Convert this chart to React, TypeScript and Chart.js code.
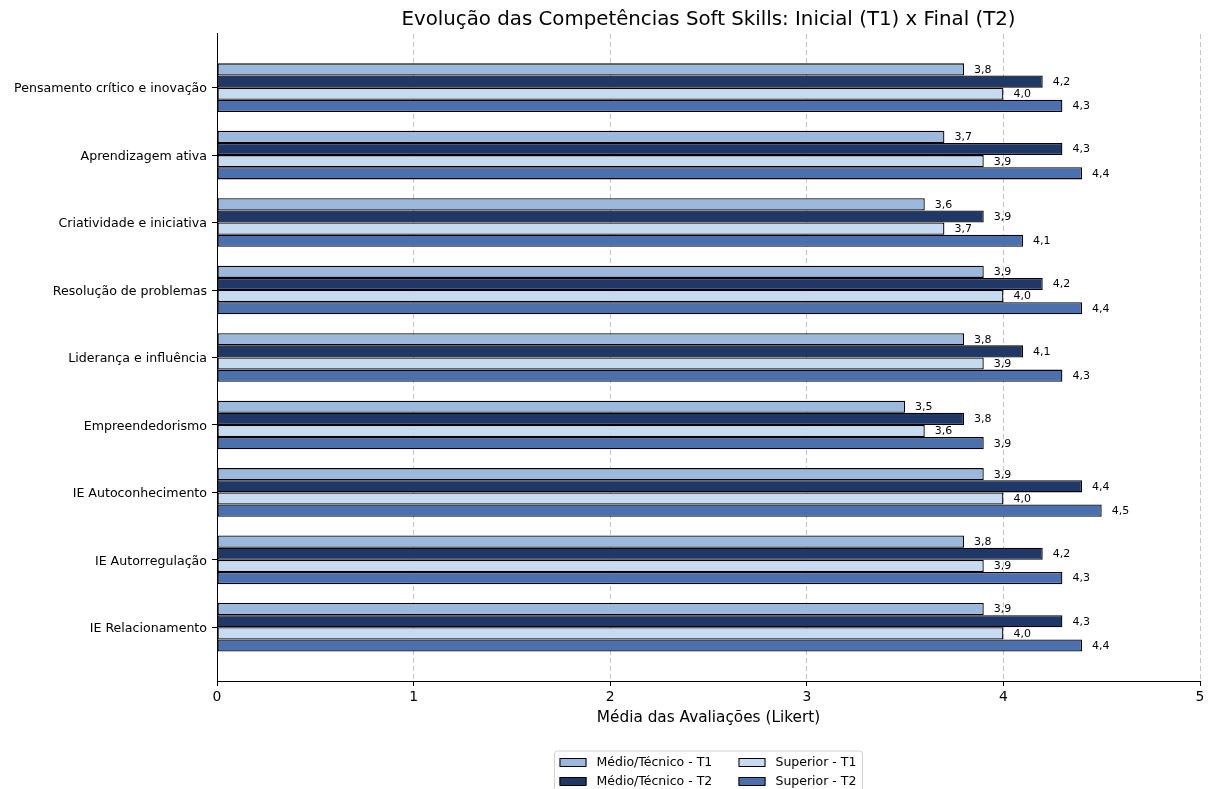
import React, { useEffect, useRef } from "react";
import { Chart, registerables } from "chart.js";

Chart.register(...registerables);

// Competências avaliadas (ordem de cima para baixo)
const categories = [
  "Pensamento crítico e inovação",
  "Aprendizagem ativa",
  "Criatividade e iniciativa",
  "Resolução de problemas",
  "Liderança e influência",
  "Empreendedorismo",
  "IE Autoconhecimento",
  "IE Autorregulação",
  "IE Relacionamento",
];

// Médias por grupo e momento
const medioT1 = [3.8, 3.7, 3.6, 3.9, 3.8, 3.5, 3.9, 3.8, 3.9];
const medioT2 = [4.2, 4.3, 3.9, 4.2, 4.1, 3.8, 4.4, 4.2, 4.3];
const superiorT1 = [4.0, 3.9, 3.7, 4.0, 3.9, 3.6, 4.0, 3.9, 4.0];
const superiorT2 = [4.3, 4.4, 4.1, 4.4, 4.3, 3.9, 4.5, 4.3, 4.4];

const seriesLabels = ["Médio/Técnico - T1", "Médio/Técnico - T2", "Superior - T1", "Superior - T2"];
const seriesColors = ["#9bb9dd", "#1f3868", "#c6dbef", "#4a70b0"];

const xTicks = [0, 1, 2, 3, 4, 5];

const FONT = "'DejaVu Sans', sans-serif";

const fmt = (v: number) => v.toFixed(1).replace(".", ",");

// Rótulos de valor na ponta de cada barra
const valueLabels = {
  id: "valueLabels",
  afterDatasetsDraw(chart: any) {
    const { ctx } = chart;
    ctx.save();
    ctx.font = `11px ${FONT}`;
    ctx.fillStyle = "#000";
    ctx.textAlign = "left";
    ctx.textBaseline = "middle";
    chart.data.datasets.forEach((ds: any, di: number) => {
      const meta = chart.getDatasetMeta(di);
      meta.data.forEach((bar: any, i: number) => {
        const v = ds.data[i].x;
        ctx.fillText(fmt(v), bar.x + 10, bar.y + 0.5);
      });
    });
    ctx.restore();
  },
};

// Legenda em duas colunas, abaixo do eixo x
const columnLegend = {
  id: "columnLegend",
  afterDraw(chart: any) {
    const { ctx, chartArea } = chart;
    const datasets = chart.data.datasets;
    const boxW = 308;
    const cx = (chartArea.left + chartArea.right) / 2;
    const left = cx - boxW / 2;
    const top = 751;
    ctx.save();
    ctx.beginPath();
    const r = 3;
    const h = 44;
    ctx.moveTo(left + r, top);
    ctx.lineTo(left + boxW - r, top);
    ctx.quadraticCurveTo(left + boxW, top, left + boxW, top + r);
    ctx.lineTo(left + boxW, top + h);
    ctx.lineTo(left, top + h);
    ctx.lineTo(left, top + r);
    ctx.quadraticCurveTo(left, top, left + r, top);
    ctx.closePath();
    ctx.fillStyle = "rgba(255,255,255,0.8)";
    ctx.fill();
    ctx.strokeStyle = "#d0d0d0";
    ctx.lineWidth = 1;
    ctx.stroke();

    ctx.font = `12.5px ${FONT}`;
    ctx.textBaseline = "middle";
    ctx.textAlign = "left";
    datasets.forEach((ds: any, i: number) => {
      const col = Math.floor(i / 2);
      const row = i % 2;
      const px = left + 5 + col * 179;
      const py = top + 11 + row * 19;
      ctx.fillStyle = ds.backgroundColor;
      ctx.fillRect(px, py - 4, 27, 8);
      ctx.strokeStyle = "#000";
      ctx.lineWidth = 1;
      ctx.strokeRect(px + 0.5, py - 4 + 0.5, 26, 8);
      ctx.fillStyle = "#000";
      ctx.fillText(ds.label, px + 37, py + 0.5);
    });
    ctx.restore();
  },
};

export default function App() {
  const canvasRef = useRef<HTMLCanvasElement | null>(null);

  useEffect(() => {
    if (!canvasRef.current) return;
    const series = [medioT1, medioT2, superiorT1, superiorT2];
    const chart = new Chart(canvasRef.current, {
      type: "bar",
      data: {
        datasets: series.map((values, s) => ({
          label: seriesLabels[s],
          data: values.map((v, i) => ({ x: v, y: i })),
          backgroundColor: seriesColors[s],
          borderColor: "#000",
          borderWidth: 1.3,
          borderSkipped: false,
          categoryPercentage: 0.72,
          barPercentage: 1,
        })),
      },
      options: {
        indexAxis: "y",
        responsive: false,
        animation: false,
        devicePixelRatio: 1,
        layout: { padding: { left: 0, right: 12, top: 0, bottom: 0 } },
        plugins: {
          legend: { display: false },
          tooltip: { enabled: false },
          title: {
            display: true,
            fullSize: false,
            text: "Evolução das Competências Soft Skills: Inicial (T1) x Final (T2)",
            color: "#000",
            font: { family: FONT, size: 19.8, weight: "normal" },
            padding: { top: 8, bottom: 2.2 },
          },
        },
        scales: {
          x: {
            type: "linear",
            position: "bottom",
            min: 0,
            max: 5,
            afterBuildTicks: (scale: any) => {
              scale.ticks = xTicks.map((v) => ({ value: v }));
            },
            afterFit: (scale: any) => {
              scale.height = 108;
            },
            ticks: {
              color: "#000",
              font: { family: FONT, size: 13.9 },
              padding: 3,
              callback: (v: any) => String(v),
            },
            grid: {
              color: (c: any) => (c.tick && c.tick.value === 0 ? "rgba(0,0,0,0)" : "#c4c4c4"),
              lineWidth: 1,
              tickColor: "#000",
              tickBorderDash: [],
              tickLength: 5,
            },
            border: { display: true, color: "#000", width: 1, dash: [5, 3] },
            title: {
              display: true,
              text: "Média das Avaliações (Likert)",
              color: "#000",
              font: { family: FONT, size: 15.3 },
              padding: { top: 0, bottom: 62 },
            },
          },
          y: {
            type: "linear",
            reverse: true,
            offset: false,
            min: -0.796,
            max: 8.796,
            afterBuildTicks: (scale: any) => {
              scale.ticks = categories.map((_, i) => ({ value: i }));
            },
            afterFit: (scale: any) => {
              scale.width = 217;
            },
            ticks: {
              color: "#000",
              font: { family: FONT, size: 12.6 },
              padding: 5,
              labelOffset: 1.5,
              callback: (v: any) => categories[v] ?? "",
            },
            grid: {
              offset: false,
              drawOnChartArea: false,
              tickColor: "#000",
              tickLength: 5,
            },
            border: { display: true, color: "#000", width: 1 },
          },
        },
      },
      plugins: [valueLabels, columnLegend],
    } as any);
    return () => chart.destroy();
  }, []);

  return (
    <div style={{ position: "fixed", left: 0, top: 0, width: 1212, height: 789, background: "#fff" }}>
      <canvas ref={canvasRef} width={1212} height={789} style={{ display: "block" }} />
    </div>
  );
}
